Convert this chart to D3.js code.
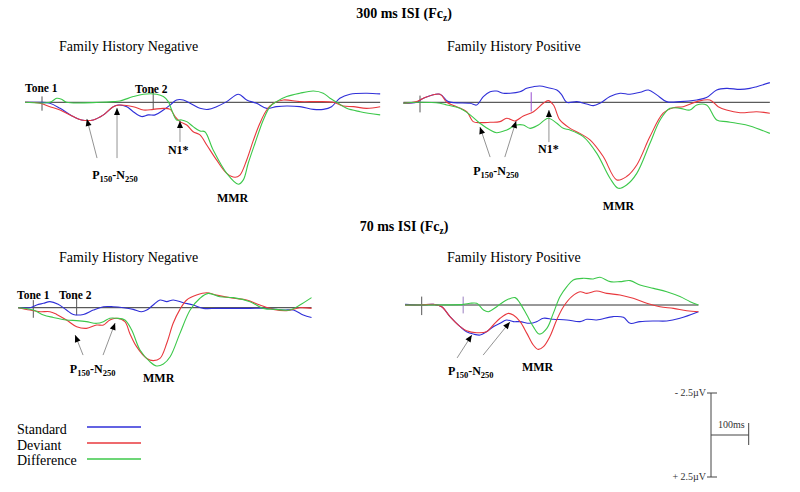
<!DOCTYPE html>
<html>
<head>
<meta charset="utf-8">
<script src="https://cdn.jsdelivr.net/npm/d3@7"></script>
<style>
  body { margin: 0; background: #fff; }
  svg { display: block; font-family: "Liberation Serif", "Times New Roman", serif; }
</style>
</head>
<body>
<svg id="chart" width="800" height="492"></svg>
<script>
"use strict";

// waveforms: [ms after tone 1, amplitude in µV] (negative drawn upward)
const tlStandard = [[-45,0],[-5,0],[21,0.06],[48,0.36],[83,0.85],[105,1.05],[136,1.05],[163,0.75],[189,0.26],[202,0.16],[225,0.26],[242,0.56],[264,0.85],[282,0.75],[300,0.75],[322,0.46],[340,0.16],[357,-0.14],[375,-0.14],[393,0.06],[419,0.36],[441,0.42],[463,0.26],[490,-0.04],[521,-0.48],[543,-0.14],[569,0.06],[596,0.36],[622,0.26],[649,0.22],[684,0.26],[720,0.42],[746,0.42],[768,0.26],[790,-0.24],[817,-0.48],[861,-0.54],[897,-0.5]];
const tlDeviant = [[-45,0],[-5,0.06],[21,0.26],[48,0.46],[83,0.85],[105,1.05],[136,1.05],[163,0.75],[189,0.26],[207,0.16],[242,0.26],[269,0.46],[295,0.42],[322,0.36],[340,0.42],[353,0.85],[366,1.15],[384,1.35],[401,1.75],[419,1.94],[437,2.54],[463,3.43],[490,4.23],[512,4.46],[525,4.33],[543,3.43],[561,2.24],[578,1.25],[596,0.46],[614,0.06],[640,-0.14],[684,-0.04],[729,-0.04],[773,0],[799,0.22],[826,0.26],[861,0.36],[897,0.26]];
const tlDifference = [[-45,0],[21,0],[39,-0.24],[52,-0.18],[65,0],[154,0],[189,-0.04],[207,-0.08],[242,-0.34],[269,-0.48],[304,-0.48],[322,-0.34],[335,-0.04],[344,0.46],[357,1.05],[370,1.05],[384,1.15],[401,1.45],[419,1.71],[432,1.75],[454,2.84],[490,4.23],[521,4.88],[534,4.62],[547,3.63],[565,2.44],[587,1.05],[605,0.26],[622,-0.04],[649,-0.34],[684,-0.54],[720,-0.67],[746,-0.54],[764,-0.24],[782,0],[808,0.36],[844,0.56],[897,0.75]];

const trStandard = [[-44,0.06],[-9,0],[9,-0.24],[53,-0.48],[75,-0.04],[133,0.06],[150,0.16],[168,-0.34],[186,-0.63],[203,-0.67],[221,-0.54],[239,-0.54],[265,-0.63],[283,-0.83],[301,-0.93],[318,-0.97],[340,-0.87],[363,-0.73],[376,-0.44],[389,0],[416,-0.04],[442,0.1],[460,0.2],[477,0.06],[504,-0.34],[531,-0.54],[557,-0.48],[584,-0.6],[606,-0.73],[628,-0.44],[654,-0.04],[690,-0.04],[734,-0.14],[760,-0.28],[787,-0.73],[813,-0.83],[849,-0.77],[875,-0.83],[893,-0.93],[928,-1.17]];
const trDeviant = [[-44,0.06],[-9,-0.04],[9,-0.24],[53,-0.48],[71,0],[97,0.26],[124,0.56],[141,1.15],[159,1.21],[186,1.19],[212,1.15],[230,0.95],[252,1.11],[274,0.81],[301,0.56],[327,0.06],[340,-0.1],[354,0.16],[371,1.05],[398,1.55],[424,1.85],[451,2.24],[486,3.23],[522,4.62],[548,4.42],[575,3.73],[610,2.04],[645,0.65],[672,0.32],[698,0.26],[734,-0.04],[769,-0.14],[791,0.26],[813,0.46],[849,0.62],[893,0.56],[928,0.65]];
const trDifference = [[-44,0.06],[-9,0],[53,0.06],[71,0.16],[106,0.36],[133,0.75],[159,1.25],[186,1.65],[203,1.81],[230,1.65],[256,1.35],[274,1.35],[292,1.55],[314,1.35],[340,0.95],[363,1.25],[380,1.55],[398,1.65],[433,2.04],[469,3.04],[504,4.52],[526,5.12],[548,4.92],[575,4.23],[610,2.44],[637,1.05],[663,0.36],[690,0.36],[716,0.46],[734,0.16],[760,0.16],[787,1.05],[813,1.15],[840,1.25],[875,1.41],[928,1.85]];

const blStandard = [[-40,0],[-9,0],[9,-0.16],[27,-0.26],[44,-0.36],[66,-0.2],[88,0.14],[106,0.4],[133,0.4],[159,0.14],[186,-0.06],[212,-0.06],[239,0],[265,0.1],[287,0.24],[301,0.14],[318,-0.16],[336,-0.46],[354,-0.36],[371,-0.46],[398,-0.3],[424,-0.16],[451,0.04],[486,0.04],[531,0.04],[575,0.04],[619,0.04],[663,0.14],[690,0.14],[716,0.44],[738,0.58]];
const blDeviant = [[-40,0],[-9,0.14],[18,0.24],[44,0.24],[62,0.4],[88,0.73],[115,1.13],[141,1.23],[168,1.03],[186,1.03],[203,0.73],[221,0.63],[243,0.83],[256,1.53],[274,2.32],[301,3.02],[318,3.15],[336,3.02],[354,2.12],[371,0.93],[389,0.1],[407,-0.46],[433,-0.75],[460,-0.89],[486,-0.75],[531,-0.56],[566,-0.46],[601,-0.16],[637,0.1],[672,0.18],[707,0],[738,0.04]];
const blDifference = [[-40,0],[0,0.14],[27,0.44],[53,0.58],[88,0.73],[115,0.77],[141,0.83],[168,0.93],[186,0.83],[203,0.63],[221,0.63],[243,0.73],[261,1.33],[283,2.52],[309,3.21],[327,3.47],[345,3.35],[363,2.92],[389,1.53],[416,0.14],[442,-0.56],[464,-0.85],[495,-0.65],[531,-0.6],[575,-0.36],[610,0.04],[645,0.1],[681,0.14],[707,-0.16],[738,-0.6]];

const brStandard = [[-44,-0.04],[-4,0],[31,-0.04],[53,0.1],[75,0.69],[102,1.29],[119,1.59],[137,1.73],[155,1.79],[172,1.59],[190,1.29],[208,1.09],[225,0.89],[243,0.99],[261,0.99],[287,1.09],[305,0.99],[323,0.79],[349,0.85],[385,0.89],[420,0.99],[438,0.85],[464,0.89],[508,0.69],[535,0.73],[553,1.09],[579,0.99],[615,0.95],[650,0.95],[685,0.79],[734,0.4]];
const brDeviant = [[-44,0],[-4,0],[31,-0.04],[53,0.1],[75,0.69],[102,1.29],[119,1.53],[146,1.65],[172,1.59],[190,1.19],[208,0.79],[230,0.5],[243,0.6],[261,0.99],[279,1.69],[296,2.38],[309,2.64],[323,2.48],[340,1.88],[358,0.89],[376,0.1],[398,-0.5],[420,-0.79],[438,-0.69],[464,-0.83],[491,-0.69],[526,-0.6],[561,-0.4],[597,-0.1],[632,0.1],[668,0.2],[703,0.34],[734,0.4]];
const brDifference = [[-44,0],[-4,0],[111,-0.04],[128,-0.1],[146,-0.1],[164,0.3],[177,0.4],[199,0.1],[225,-0.3],[248,-0.44],[261,-0.1],[279,0.6],[296,1.29],[312,1.73],[332,1.39],[349,0.5],[367,-0.5],[385,-1.09],[402,-1.49],[429,-1.59],[455,-1.55],[473,-1.65],[500,-1.39],[526,-1.39],[553,-1.45],[579,-1.19],[615,-0.99],[650,-0.79],[685,-0.5],[712,-0.2],[734,0]];

const rowTitles = ["300 ms ISI (Fc", "70 ms ISI (Fc"];
const groupTitles = ["Family History Negative", "Family History Positive"];
const seriesNames = ["Standard", "Deviant", "Difference"];
const seriesColors = ["#2f2fd8", "#e8383d", "#3cc84a"];
const toneTimes = [[0, 295], [0, 295], [0, 115], [0, 110]];

const pxPerMs = 0.377, pxPerUv = 16.8;

const panels = [
  { x0: 42,    y0: 102.3, span: [-45, 897], series: [tlStandard, tlDeviant, tlDifference], tones: toneTimes[0],
    toneTicks: [[-0.35, 0.5], [-0.85, 0.45]],
    labels: [{ t: -45, v: -0.6, txt: "Tone 1" }, { t: 247, v: -0.55, txt: "Tone 2" }],
    comps: [{ t: 133, v: 4.57, txt: "P", sub1: "150", mid: "-N", sub2: "250" },
            { t: 334, v: 3.08, txt: "N1*" }, { t: 464, v: 5.93, txt: "MMR" }],
    arrows: [[146, 3.32, 119, 0.99], [199, 3.32, 199, 0.34], [366, 2.36, 366, 1.11]] },
  { x0: 420,   y0: 102.3, span: [-44, 928], series: [trStandard, trDeviant, trDifference], tones: toneTimes[1],
    toneTicks: [[-0.4, 0.6], [-0.6, 0.55]], toneColors: ["#555", "#9a4fd0"],
    labels: [],
    comps: [{ t: 141, v: 4.33, txt: "P", sub1: "150", mid: "-N", sub2: "250" },
            { t: 313, v: 3.03, txt: "N1*" }, { t: 485, v: 6.41, txt: "MMR" }],
    arrows: [[186, 3.26, 159, 1.47], [225, 3.26, 255, 1.11], [342, 2.37, 342, 0.46]] },
  { x0: 33.3,  y0: 307.7, span: [-40, 738], series: [blStandard, blDeviant, blDifference], tones: toneTimes[2],
    toneTicks: [[-0.45, 0.6], [-0.85, 0.45]],
    labels: [{ t: -43, v: -0.52, txt: "Tone 1" }, { t: 68, v: -0.52, txt: "Tone 2" }],
    comps: [{ t: 97, v: 3.87, txt: "P", sub1: "150", mid: "-N", sub2: "250" },
            { t: 291, v: 4.42, txt: "MMR" }],
    arrows: [[132, 2.82, 111, 1.63], [185, 2.82, 217, 0.91]] },
  { x0: 421.7, y0: 305,   span: [-44, 734], series: [brStandard, brDeviant, brDifference], tones: toneTimes[3],
    toneTicks: [[-0.5, 0.6], [-0.5, 0.5]], toneColors: ["#555", "#9a7fc0"],
    labels: [],
    comps: [{ t: 70, v: 4.17, txt: "P", sub1: "150", mid: "-N", sub2: "250" },
            { t: 266, v: 3.93, txt: "MMR" }],
    arrows: [[94, 3.15, 133, 1.79], [163, 2.98, 234, 1.01]] }
];

const svg = d3.select("#chart");

// row and group headings
const headY = [[18, 51], [231, 262]];
rowTitles.forEach(function (t, i) {
  const txt = svg.append("text")
    .attr("x", 404).attr("y", headY[i][0])
    .attr("text-anchor", "middle")
    .attr("font-size", 14).attr("font-weight", "bold")
    .text(t);
  txt.append("tspan").attr("font-size", 9.5).attr("dy", 3).text("z");
  txt.append("tspan").attr("dy", -3).text(")");
  groupTitles.forEach(function (g, j) {
    svg.append("text")
      .attr("x", j == 0 ? 59 : 447).attr("y", headY[i][1])
      .attr("font-size", 14)
      .text(g);
  });
});

panels.forEach(function (p) {
  const x = d3.scaleLinear().domain([0, 1000]).range([p.x0, p.x0 + 1000 * pxPerMs]);
  const y = d3.scaleLinear().domain([0, 1]).range([p.y0, p.y0 + pxPerUv]);
  const g = svg.append("g");

  // zero line
  g.append("line")
    .attr("x1", x(p.span[0])).attr("x2", x(p.span[1]))
    .attr("y1", y(0)).attr("y2", y(0))
    .attr("stroke", "#333").attr("stroke-width", 1);

  // tone onset ticks
  p.tones.forEach(function (t, i) {
    g.append("line")
      .attr("x1", x(t)).attr("x2", x(t))
      .attr("y1", y(p.toneTicks[i][0])).attr("y2", y(p.toneTicks[i][1]))
      .attr("stroke", p.toneColors ? p.toneColors[i] : "#555").attr("stroke-width", 1);
  });

  const line = d3.line()
    .x(function (d) { return x(d[0]); })
    .y(function (d) { return y(d[1]); })
    .curve(d3.curveCatmullRom.alpha(0.5));

  p.series.forEach(function (s, i) {
    g.append("path")
      .attr("d", line(s))
      .attr("fill", "none")
      .attr("stroke", seriesColors[i])
      .attr("stroke-width", 1.1);
  });

  p.labels.forEach(function (l) {
    g.append("text")
      .attr("x", x(l.t)).attr("y", y(l.v))
      .attr("font-size", 11.5).attr("font-weight", "bold")
      .text(l.txt);
  });

  // arrows pointing at components
  p.arrows.forEach(function (a) {
    const x1 = x(a[0]), y1 = y(a[1]), x2 = x(a[2]), y2 = y(a[3]);
    const ang = Math.atan2(y2 - y1, x2 - x1);
    g.append("line")
      .attr("x1", x1).attr("y1", y1).attr("x2", x2).attr("y2", y2)
      .attr("stroke", "#777").attr("stroke-width", 0.8);
    const L = 7, W = 3;
    const bx = x2 - L * Math.cos(ang), by = y2 - L * Math.sin(ang);
    const pts = [[x2, y2],
      [bx + W * Math.sin(ang), by - W * Math.cos(ang)],
      [bx - W * Math.sin(ang), by + W * Math.cos(ang)]];
    g.append("path")
      .attr("d", "M" + pts.join("L") + "Z")
      .attr("fill", "#000");
  });

  p.comps.forEach(function (c) {
    const txt = g.append("text")
      .attr("x", x(c.t)).attr("y", y(c.v))
      .attr("font-size", 12).attr("font-weight", "bold")
      .text(c.txt);
    if (c.sub1) {
      txt.append("tspan").attr("font-size", 8.5).attr("dy", 3).text(c.sub1);
      txt.append("tspan").attr("dy", -3).text(c.mid);
      txt.append("tspan").attr("font-size", 8.5).attr("dy", 3).text(c.sub2);
    }
  });
});

// legend
const legend = svg.append("g").attr("class", "legend");
seriesNames.forEach(function (n, i) {
  legend.append("text")
    .attr("x", 17).attr("y", 434 + 15.5 * i)
    .attr("font-size", 14)
    .text(n);
  legend.append("line")
    .attr("x1", 87).attr("x2", 141)
    .attr("y1", 427 + 16 * i).attr("y2", 427 + 16 * i)
    .style("stroke", seriesColors[i])
    .attr("stroke-width", i == 0 ? 1.6 : 1.3);
});

// calibration bar
const sbY = d3.scaleLinear().domain([-2.5, 2.5]).range([393, 477]);
const sbX = d3.scaleLinear().domain([0, 100]).range([711, 711 + 100 * pxPerMs]);
const sb = svg.append("g").attr("stroke", "#444").attr("stroke-width", 1);
sb.append("line").attr("x1", sbX(0)).attr("x2", sbX(0)).attr("y1", sbY(-2.5)).attr("y2", sbY(2.5));
sb.append("line").attr("x1", sbX(0) - 4).attr("x2", sbX(0) + 6).attr("y1", sbY(-2.5)).attr("y2", sbY(-2.5));
sb.append("line").attr("x1", sbX(0) - 4).attr("x2", sbX(0) + 6).attr("y1", sbY(2.5)).attr("y2", sbY(2.5));
sb.append("line").attr("x1", sbX(0)).attr("x2", sbX(100)).attr("y1", sbY(0)).attr("y2", sbY(0));
sb.append("line").attr("x1", sbX(100)).attr("x2", sbX(100)).attr("y1", sbY(0) - 12).attr("y2", sbY(0) + 10);
svg.append("text").attr("x", 706).attr("y", sbY(-2.5) + 3).attr("text-anchor", "end")
  .attr("font-size", 10).attr("fill", "#333").text("- 2.5µV");
svg.append("text").attr("x", 706).attr("y", sbY(2.5) + 3).attr("text-anchor", "end")
  .attr("font-size", 10).attr("fill", "#333").text("+ 2.5µV");
svg.append("text").attr("x", 718).attr("y", sbY(0) - 7)
  .attr("font-size", 10).attr("fill", "#333").text("100ms");
</script>
</body>
</html>
